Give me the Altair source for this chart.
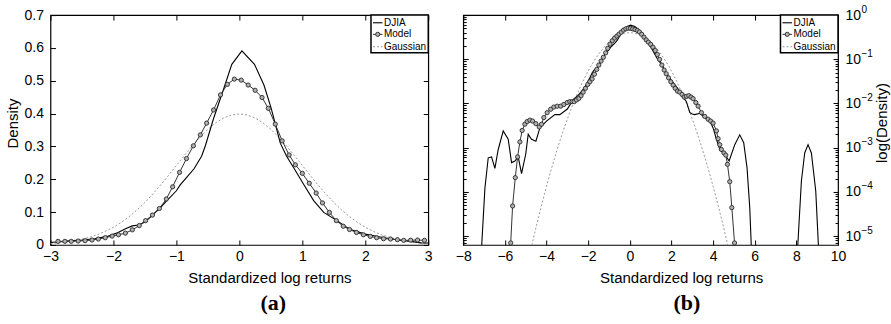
import altair as alt
import pandas as pd

# ---------------- data ----------------
# Panel (a): linear density, DJIA empirical
djia_a_x = [-3.00, -2.70, -2.50, -2.30, -2.10, -1.95, -1.80, -1.70, -1.60, -1.50,
            -1.40, -1.27, -1.15, -1.00, -0.94, -0.84, -0.72, -0.60, -0.54, -0.41,
            -0.25, -0.12, 0.04, 0.24, 0.39, 0.50, 0.60, 0.65, 0.75, 0.86,
            1.02, 1.18, 1.34, 1.55, 1.75, 2.00, 2.30, 2.60, 2.72, 2.88, 3.00]
djia_a_y = [0.0075, 0.0125, 0.015, 0.019, 0.026, 0.036, 0.050, 0.058, 0.061, 0.070,
            0.087, 0.111, 0.135, 0.165, 0.183, 0.205, 0.232, 0.270, 0.302, 0.385,
            0.475, 0.550, 0.591, 0.550, 0.487, 0.420, 0.347, 0.310, 0.270, 0.236,
            0.185, 0.135, 0.099, 0.074, 0.048, 0.033, 0.022, 0.013, 0.011, 0.0063, 0.0058]

# Model density (markers)
model_a_x = [-2.88, -2.77, -2.67, -2.56, -2.45, -2.34, -2.24, -2.13, -2.02, -1.92,
             -1.81, -1.70, -1.59, -1.49, -1.38, -1.27, -1.16, -1.06, -0.95, -0.84,
             -0.73, -0.62, -0.52, -0.41, -0.30, -0.19, -0.08, 0.03, 0.14, 0.25,
             0.36, 0.46, 0.57, 0.68, 0.79, 0.89, 1.00, 1.11, 1.22, 1.32,
             1.43, 1.54, 1.65, 1.75, 1.86, 1.97, 2.08, 2.18, 2.29, 2.40,
             2.51, 2.61, 2.72, 2.83, 2.94]
model_a_y = [0.011, 0.011, 0.011, 0.012, 0.013, 0.015, 0.018, 0.022, 0.027, 0.031,
             0.036, 0.046, 0.059, 0.074, 0.091, 0.111, 0.140, 0.177, 0.221, 0.263,
             0.302, 0.335, 0.371, 0.411, 0.457, 0.489, 0.505, 0.502, 0.487, 0.471,
             0.449, 0.416, 0.368, 0.317, 0.274, 0.244, 0.218, 0.188, 0.158, 0.128,
             0.099, 0.074, 0.057, 0.047, 0.038, 0.031, 0.026, 0.022, 0.019, 0.018,
             0.016, 0.014, 0.0145, 0.015, 0.014]

# Standard Gaussian density
gauss_x = [-4.875, -4.75, -4.625, -4.5, -4.375, -4.25, -4.125, -4.0, -3.875, -3.75,
           -3.625, -3.5, -3.375, -3.25, -3.125, -3.0, -2.875, -2.75, -2.625, -2.5,
           -2.375, -2.25, -2.125, -2.0, -1.875, -1.75, -1.625, -1.5, -1.375, -1.25,
           -1.125, -1.0, -0.875, -0.75, -0.625, -0.5, -0.375, -0.25, -0.125, 0.0,
           0.125, 0.25, 0.375, 0.5, 0.625, 0.75, 0.875, 1.0, 1.125, 1.25,
           1.375, 1.5, 1.625, 1.75, 1.875, 2.0, 2.125, 2.25, 2.375, 2.5,
           2.625, 2.75, 2.875, 3.0, 3.125, 3.25, 3.375, 3.5, 3.625, 3.75,
           3.875, 4.0, 4.125, 4.25, 4.375, 4.5, 4.625, 4.75, 4.875]
gauss_y = [0.00000276, 0.00000503, 0.00000904, 0.0000160, 0.0000278, 0.0000477, 0.0000805, 0.000134, 0.000219, 0.000353,
           0.000559, 0.000873, 0.001341, 0.002029, 0.003022, 0.004432, 0.006398, 0.009094, 0.012724, 0.017528,
           0.023772, 0.031740, 0.041721, 0.053991, 0.068787, 0.086277, 0.106538, 0.129518, 0.155012, 0.182649,
           0.211876, 0.241971, 0.272055, 0.301137, 0.328161, 0.352065, 0.371855, 0.386668, 0.395838, 0.398942,
           0.395838, 0.386668, 0.371855, 0.352065, 0.328161, 0.301137, 0.272055, 0.241971, 0.211876, 0.182649,
           0.155012, 0.129518, 0.106538, 0.086277, 0.068787, 0.053991, 0.041721, 0.031740, 0.023772, 0.017528,
           0.012724, 0.009094, 0.006398, 0.004432, 0.003022, 0.002029, 0.001341, 0.000873, 0.000559, 0.000353,
           0.000219, 0.000134, 0.0000805, 0.0000477, 0.0000278, 0.0000160, 0.00000904, 0.00000503, 0.00000276]

# Panel (b) extra tails (log scale)
djia_lt_x = [-7.15, -6.96, -6.80, -6.64, -6.48, -6.32, -6.08, -5.84, -5.68, -5.52,
             -5.36, -5.20, -5.00, -4.88, -4.72, -4.51, -4.32, -4.00, -3.60, -3.36]
djia_lt_y = [3e-6, 1.2e-4, 5.9e-4, 6.2e-4, 3.4e-4, 9.1e-4, 2.4e-3, 1.55e-3, 4.6e-4, 5.0e-4,
             6.2e-4, 2.6e-4, 7.1e-4, 2.0e-3, 1.55e-3, 1.4e-3, 2.8e-3, 4.0e-3, 5.6e-3, 5.6e-3]
djia_rt_x = [3.12, 3.36, 3.60, 3.84, 4.00, 4.16, 4.32, 4.56, 4.77, 5.04, 5.28, 5.47, 5.63, 5.76, 5.86]
djia_rt_y = [5.6e-3, 6.0e-3, 4.8e-3, 4.0e-3, 2.8e-3, 1.55e-3, 9.1e-4, 7.1e-4, 5.0e-4, 1.17e-3,
             1.95e-3, 1.3e-3, 3.5e-4, 4.4e-5, 3e-6]
djia_far_x = [8.03, 8.24, 8.40, 8.56, 8.72, 8.93, 9.09]
djia_far_y = [3e-6, 1.74e-4, 7.6e-4, 1.17e-3, 7.6e-4, 1.05e-4, 3e-6]

model_lt_x = [-5.72, -5.63, -5.50, -5.39, -5.28, -5.17, -5.04, -4.93, -4.80, -4.67,
              -4.51, -4.35, -4.24, -4.13, -3.97, -3.80, -3.65, -3.49, -3.32, -3.17, -3.01]
model_lt_y = [7e-6, 4.8e-5, 2.1e-4, 6.2e-4, 1.35e-3, 2.45e-3, 3.4e-3, 3.9e-3, 4.2e-3, 4.0e-3,
              3.5e-3, 2.95e-3, 3.4e-3, 4.8e-3, 6.2e-3, 7.4e-3, 8.3e-3, 8.7e-3, 8.7e-3, 9.5e-3, 0.0105]
model_rt_x = [3.04, 3.17, 3.28, 3.44, 3.60, 3.76, 3.88, 4.00, 4.16, 4.24,
              4.32, 4.40, 4.52, 4.61, 4.69, 4.80, 4.90, 5.03]
model_rt_y = [0.0129, 0.0105, 0.0087, 0.0062, 0.0051, 0.0044, 0.0040, 0.0036, 0.0024, 0.0016,
              0.00117, 0.00091, 0.00076, 0.00068, 0.00042, 0.00017, 4.4e-5, 7e-6]

legend_labels = ["DJIA", "Model", "Gaussian"]
panel_labels = ["(a)", "(b)"]
x_title = "Standardized log returns"
y_title_b = "log(Density)"

# ---------------- helpers ----------------
FONT = "Liberation Sans"


def df(x, y):
    return pd.DataFrame({"x": x, "y": y})


one = pd.DataFrame({"k": [0]})


def tick_axis(orient, values, size=5, **kw):
    return alt.Axis(orient=orient, values=values, offset=-size, tickSize=size,
                    domain=False, grid=False, tickColor="black", tickWidth=1,
                    labelFontSize=14, **kw)


def legend_layers(x0, x1):
    rows = [7.7, 19.3, 31.7]
    layers = [
        alt.Chart(one).mark_rect(fill="white", stroke="black", strokeWidth=1.5).encode(
            x=alt.value(x0), x2=alt.value(x1), y=alt.value(0), y2=alt.value(37.7))
    ]
    ls, le, tx = x0 + 2, x0 + 11.5, x0 + 13
    layers.append(alt.Chart(one).mark_rule(color="black", strokeWidth=1.1).encode(
        x=alt.value(ls), x2=alt.value(le), y=alt.value(rows[0])))
    layers.append(alt.Chart(one).mark_rule(color="#333333", strokeWidth=1).encode(
        x=alt.value(ls), x2=alt.value(le), y=alt.value(rows[1])))
    layers.append(alt.Chart(one).mark_circle(size=18, fill="#b0b0b0", stroke="#2a2a2a",
                                             strokeWidth=0.9, opacity=1).encode(
        x=alt.value((ls + le) / 2), y=alt.value(rows[1])))
    layers.append(alt.Chart(one).mark_rule(color="#999999", strokeWidth=1, strokeDash=[2, 2]).encode(
        x=alt.value(ls), x2=alt.value(le), y=alt.value(rows[2])))
    for lab, ry in zip(legend_labels, rows):
        layers.append(alt.Chart(pd.DataFrame({"t": [lab]})).mark_text(
            font=FONT, fontSize=10, align="left", baseline="middle", color="black").encode(
            text="t:N", x=alt.value(tx), y=alt.value(ry)))
    return layers


def panel_label(i, xc):
    return alt.Chart(pd.DataFrame({"t": [panel_labels[i]]})).mark_text(
        font="Liberation Serif", fontSize=22, fontWeight="bold", align="center",
        baseline="middle", color="black").encode(
        text="t:N", x=alt.value(xc), y=alt.value(288))


# ---------------- panel (a) ----------------
WA, HA = 378, 230
xs_a = alt.Scale(domain=[-3, 3], nice=False, zero=False)
ys_a = alt.Scale(domain=[0, 0.7], nice=False, zero=False)
xv_a = [-3, -2, -1, 0, 1, 2, 3]
yv_a = [0, 0.1, 0.2, 0.3, 0.4, 0.5, 0.6, 0.7]

gdf = df(gauss_x, gauss_y)
gauss_a = gdf[(gdf.x >= -3) & (gdf.x <= 3)]

a_gauss = alt.Chart(gauss_a).mark_line(color="#999999", strokeWidth=1, strokeDash=[2, 2], clip=True).encode(
    x=alt.X("x:Q", scale=xs_a, axis=None), y=alt.Y("y:Q", scale=ys_a, axis=None))
a_djia = alt.Chart(df(djia_a_x, djia_a_y)).mark_line(color="black", strokeWidth=1.1, clip=True).encode(
    x=alt.X("x:Q", scale=xs_a, axis=tick_axis(
        "bottom", xv_a, format="d", labelFlush=False, labelPadding=5, title=x_title,
        titleX=219, titleY=38, titleBaseline="middle", titleAlign="center")),
    y=alt.Y("y:Q", scale=ys_a, axis=tick_axis(
        "left", yv_a, format=".1~f", labelPadding=7, title="Density", titleX=-43, titleY=108,
        titleAngle=270, titleBaseline="middle", titleAlign="center")))
a_model = alt.Chart(df(model_a_x, model_a_y)).mark_line(color="#333333", strokeWidth=1, clip=True).encode(
    x=alt.X("x:Q", scale=xs_a, axis=tick_axis("top", xv_a, labels=False, title="")),
    y=alt.Y("y:Q", scale=ys_a, axis=tick_axis("right", yv_a, labels=False, title="")))
a_pts = alt.Chart(df(model_a_x, model_a_y)).mark_circle(size=18, fill="#b0b0b0", stroke="#2a2a2a",
                                                       strokeWidth=0.9, opacity=1).encode(
    x=alt.X("x:Q", scale=xs_a, axis=None), y=alt.Y("y:Q", scale=ys_a, axis=None))

left = alt.layer(a_gauss, a_djia, a_model, a_pts, *legend_layers(320.7, 378), panel_label(0, 223)).properties(
    width=WA, height=HA).resolve_axis(x="independent", y="independent")

# ---------------- panel (b) ----------------
WB, HB = 375, 230
xs_b = alt.Scale(domain=[-8, 10], nice=False, zero=False)
ys_b = alt.Scale(type="log", domain=[6.3e-6, 1], nice=False)
xv_b = [-8, -6, -4, -2, 0, 2, 4, 6, 8, 10]
major = [1e-5, 1e-4, 1e-3, 1e-2, 1e-1, 1]
minor = [m * 10.0 ** k for k in range(-6, 0) for m in range(2, 10) if m * 10.0 ** k >= 6.3e-6]

djia_b = pd.concat([df(djia_lt_x, djia_lt_y), df(djia_a_x, djia_a_y), df(djia_rt_x, djia_rt_y)]).assign(seg="main")
djia_b = pd.concat([djia_b, df(djia_far_x, djia_far_y).assign(seg="far")], ignore_index=True)
model_b = pd.concat([df(model_lt_x, model_lt_y), df(model_a_x, model_a_y), df(model_rt_x, model_rt_y)],
                    ignore_index=True)

b_gauss = alt.Chart(gdf).mark_line(color="#999999", strokeWidth=1, strokeDash=[2, 2], clip=True).encode(
    x=alt.X("x:Q", scale=xs_b, axis=tick_axis(
        "bottom", xv_b, format="d", labelFlush=False, labelPadding=5, title=x_title,
        titleX=218, titleY=38, titleBaseline="middle", titleAlign="center")),
    y=alt.Y("y:Q", scale=ys_b, axis=tick_axis("left", major, labels=False, title="")))
b_djia = alt.Chart(djia_b).mark_line(color="black", strokeWidth=1.1, clip=True).encode(
    x=alt.X("x:Q", scale=xs_b, axis=tick_axis("top", xv_b, labels=False, title="")),
    y=alt.Y("y:Q", scale=ys_b, axis=tick_axis(
        "right", major, labelExpr="'10'", labelPadding=7, labelAlign="left", title="")),
    detail="seg:N")
b_model = alt.Chart(model_b).mark_line(color="#333333", strokeWidth=1, clip=True).encode(
    x=alt.X("x:Q", scale=xs_b, axis=None),
    y=alt.Y("y:Q", scale=ys_b, axis=tick_axis("left", minor, size=3, labels=False, title="")))
b_pts = alt.Chart(model_b).mark_circle(size=18, fill="#b0b0b0", stroke="#2a2a2a",
                                       strokeWidth=0.9, opacity=1).encode(
    x=alt.X("x:Q", scale=xs_b, axis=None),
    y=alt.Y("y:Q", scale=ys_b, axis=tick_axis("right", minor, size=3, labels=False, title="")))
b_exp = alt.Chart(gdf).mark_point(opacity=0).encode(
    x=alt.X("x:Q", scale=xs_b, axis=None),
    y=alt.Y("y:Q", scale=ys_b, axis=alt.Axis(
        orient="right", values=major, ticks=False, tickSize=0, domain=False, grid=False,
        labelExpr="format(round(log(datum.value)/LN10), 'd')", labelPadding=23,
        labelOffset=-6, labelFontSize=10, labelAlign="left", title="")))
b_ytitle = alt.Chart(pd.DataFrame({"t": [y_title_b]})).mark_text(
    font=FONT, fontSize=15, angle=270, align="center", baseline="middle", color="black").encode(
    text="t:N", x=alt.value(418.5), y=alt.value(108))

right = alt.layer(b_gauss, b_djia, b_model, b_pts, b_exp, b_ytitle, *legend_layers(317.4, 375),
                  panel_label(1, 223.7)).properties(
    width=WB, height=HB).resolve_axis(x="independent", y="independent")

chart = alt.hconcat(left, right, spacing=35, bounds="flush").properties(
    padding={"left": 4.5, "top": 3, "right": 0, "bottom": 0}
).configure_view(stroke="black", strokeWidth=1.2).configure_axis(
    labelFont=FONT, titleFont=FONT, labelFontSize=14, titleFontSize=15,
    titleFontWeight="normal", labelColor="black", titleColor="black", grid=False)

chart.save("out.html", embed_options={"renderer": "svg", "actions": False})
